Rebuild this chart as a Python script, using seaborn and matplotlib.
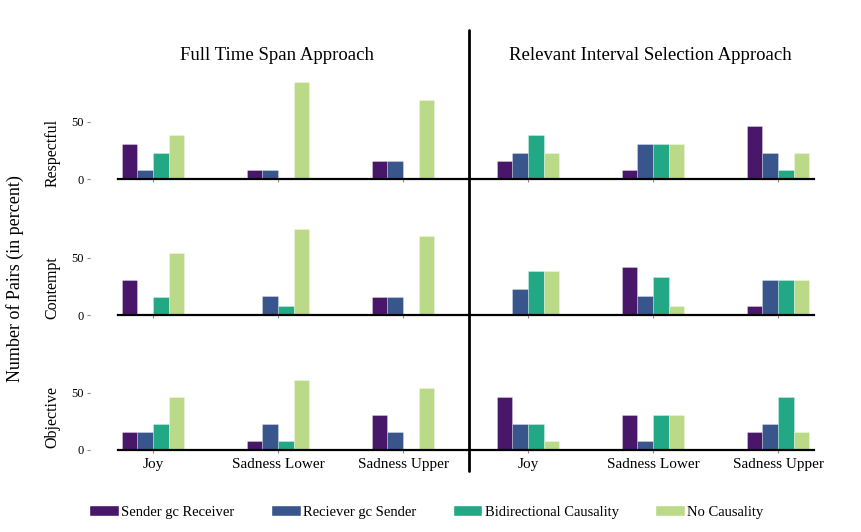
import matplotlib
matplotlib.use("Agg")
import matplotlib.pyplot as plt
from matplotlib.lines import Line2D
from matplotlib.patches import Patch
import pandas as pd
import seaborn as sns

# categories / series / panels
categories = ["Joy", "Sadness Lower", "Sadness Upper"]
series = ["Sender gc Receiver", "Reciever gc Sender", "Bidirectional Causality", "No Causality"]
rows = ["Respectful", "Contempt", "Objective"]
approaches = ["Full Time Span Approach", "Relevant Interval Selection Approach"]
colors = ["#48176A", "#39568C", "#22A884", "#BADA88"]

# values in percent, one list per series (Joy, Sadness Lower, Sadness Upper)
full_respectful = [[30.8, 7.7, 15.4], [7.7, 7.7, 15.4], [23.1, 0, 0], [38.5, 84.6, 69.2]]
full_contempt = [[30.8, 0, 15.4], [0, 16.7, 15.4], [15.4, 8.3, 0], [53.8, 75.0, 69.2]]
full_objective = [[15.4, 7.7, 30.8], [15.4, 23.1, 15.4], [23.1, 7.7, 0], [46.2, 61.5, 53.8]]
rel_respectful = [[15.4, 7.7, 46.2], [23.1, 30.8, 23.1], [38.5, 30.8, 7.7], [23.1, 30.8, 23.1]]
rel_contempt = [[0, 41.7, 7.7], [23.1, 16.7, 30.8], [38.5, 33.3, 30.8], [38.5, 8.3, 30.8]]
rel_objective = [[46.2, 30.8, 15.4], [23.1, 7.7, 23.1], [23.1, 30.8, 46.2], [7.7, 30.8, 15.4]]

panels = [[full_respectful, rel_respectful],
          [full_contempt, rel_contempt],
          [full_objective, rel_objective]]


def to_frame(vals):
    recs = []
    for s, row in zip(series, vals):
        for c, v in zip(categories, row):
            recs.append({"emotion": c, "kind": s, "value": v})
    return pd.DataFrame(recs)


sns.set_style("white")
plt.rcParams["font.family"] = ["Liberation Serif", "DejaVu Serif"]
plt.rcParams["text.color"] = "black"
plt.rcParams["xtick.color"] = "black"
plt.rcParams["ytick.color"] = "black"

W, H = 861, 532
fig = plt.figure(figsize=(W / 100, H / 100), dpi=100)

col_x = [(118, 469), (469, 814)]
col_xlim = [(-0.28, 2.528), (-0.472, 2.288)]
row_bottom = [179, 315, 450]
ax_h = 103

for r in range(3):
    for c in range(2):
        x0, x1 = col_x[c]
        ax = fig.add_axes([x0 / W, (H - row_bottom[r]) / H, (x1 - x0) / W, ax_h / H])
        df = to_frame(panels[r][c])
        sns.barplot(data=df, x="emotion", y="value", hue="kind", order=categories,
                    hue_order=series, palette=colors, saturation=1, width=0.5, ax=ax,
                    edgecolor=(1, 1, 1, 0.5), linewidth=0.4, legend=False)
        ax.set_xlim(*col_xlim[c])
        ax.set_ylim(0, 90)
        ax.set_xlabel("")
        ax.set_ylabel("")
        for s in ["top", "right", "left"]:
            ax.spines[s].set_visible(False)
        ax.spines["bottom"].set_color("black")
        ax.spines["bottom"].set_linewidth(1.6)
        ax.tick_params(axis="x", bottom=True, length=2.5, width=0.8, color="#888888",
                       labelsize=11, pad=3)
        if r < 2:
            ax.tick_params(axis="x", labelbottom=False)
        if c == 0:
            ax.spines["left"].set_position(("outward", 20))
            ax.set_yticks([0, 50])
            ax.tick_params(axis="y", left=True, length=2.5, width=0.8, color="#888888",
                           labelsize=9, pad=2)
        else:
            ax.set_yticks([])

# column titles
fig.text(277 / W, (H - 55) / H, approaches[0], ha="center", va="center", fontsize=13.5)
fig.text(650 / W, (H - 55) / H, approaches[1], ha="center", va="center", fontsize=13.5)

# row labels
for lab, yc in zip(rows, [153, 288, 416.5]):
    fig.text(52.5 / W, (H - yc) / H, lab, rotation=90, ha="center", va="center", fontsize=11.5)

fig.text(15 / W, (H - 279) / H, "Number of Pairs (in percent)", rotation=90,
         ha="center", va="center", fontsize=13)

# divider
fig.add_artist(Line2D([469 / W, 469 / W], [(H - 30) / H, (H - 471) / H],
                      color="black", lw=2))

handles = [Patch(facecolor=col, edgecolor="white") for col in colors]
fig.legend(handles, series, loc="center", bbox_to_anchor=(0.495, (H - 512) / H),
           ncol=4, frameon=False, fontsize=10.5, handlelength=2.05, handleheight=0.8,
           handletextpad=0.15, columnspacing=2.5)

fig.savefig("out.png", dpi=100)
